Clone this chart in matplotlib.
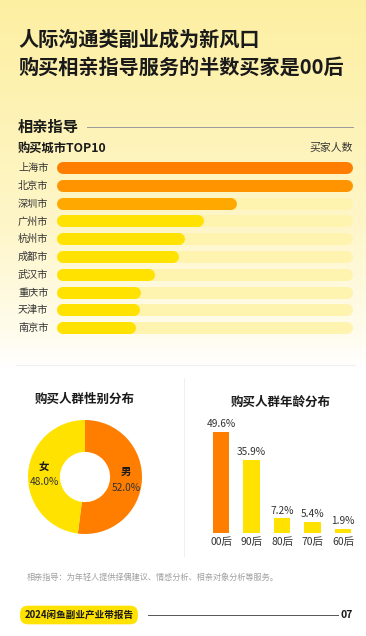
import numpy as np
import matplotlib.pyplot as plt
from matplotlib.colors import LinearSegmentedColormap


plt.rcParams["font.family"] = ["Noto Sans CJK SC", "DejaVu Sans"]

W, H = 366, 636

title_lines = ["人际沟通类副业成为新风口", "购买相亲指导服务的半数买家是00后"]

cities = ["上海市", "北京市", "深圳市", "广州市", "杭州市",
          "成都市", "武汉市", "重庆市", "天津市", "南京市"]
city_values = [100, 99.9, 59, 47.5, 40.8, 38.7, 30.3, 25.4, 25.0, 23.5]
city_colors = ["#FF7E00", "#FF9300", "#FFA900", "#FFE200", "#FFE200",
               "#FFE200", "#FFE200", "#FFE200", "#FFE200", "#FFE200"]

gender_labels = ["男", "女"]
gender_values = [52.0, 48.0]
gender_colors = ["#FF7E00", "#FFE200"]

age_labels = ["00后", "90后", "80后", "70后", "60后"]
age_values = [49.6, 35.9, 7.2, 5.4, 1.9]
age_colors = ["#FF7E00", "#FFE200", "#FFE200", "#FFE200", "#FFE200"]

footnote = "相亲指导：为年轻人提供择偶建议、情感分析、相亲对象分析等服务。"
footer = "2024闲鱼副业产业带报告"
page_no = "07"

DARK = "#1A1A1A"
TEXT = "#333333"
TRACK = "#FFF3B0"


def px_axes(fig, x, y, w, h, **kw):
    """
    Add axes using pixel box (top-left origin)
    """

    return fig.add_axes([x / W, 1 - (y + h) / H, w / W, h / H], **kw)


def draw_background(ax):
    """
    Yellow to white gradient
    """

    cmap = LinearSegmentedColormap.from_list(
        "bg",
        [(0.0, "#FDEFA2"), (0.35, "#FEF6C8"), (0.52, "#FFFCEC"),
         (0.58, "#FFFFFF"), (1.0, "#FFFFFF")]
    )

    grad = np.linspace(0, 1, 300).reshape(-1, 1)

    ax.imshow(grad, cmap=cmap, aspect="auto",
              extent=(0, W, H, 0), zorder=0)

    ax.set_xlim(0, W)

    ax.set_ylim(H, 0)

    ax.axis("off")


def draw_city_bars(ax):
    """
    Rounded horizontal bars for city ranking
    """

    rows = np.arange(len(cities))

    lw = 12 * 0.72

    ax.hlines(rows, 0, 100, colors=TRACK, lw=lw, capstyle="round")

    for r, v, c in zip(rows, city_values, city_colors):

        ax.plot([0, v], [r, r], color=c, lw=lw,
                solid_capstyle="round")

    # city names, left aligned at the page margin
    for r, name in zip(rows, cities):

        ax.text(-39 / 296, r, name, transform=ax.get_yaxis_transform(),
                ha="left", va="center", fontsize=7.3, color=TEXT)

    ax.set_xlim(-6 / 2.84, 100 + 6 / 2.84)

    ax.set_ylim(len(cities) - 0.5, -0.5)

    ax.set_xticks([])

    ax.set_yticks([])

    for s in ax.spines.values():

        s.set_visible(False)

    ax.patch.set_alpha(0)


def draw_donut(ax):
    """
    Gender donut chart
    """

    ax.pie(gender_values, colors=gender_colors, startangle=90,
           counterclock=False, radius=1,
           wedgeprops=dict(width=0.56, edgecolor="none"))

    start = 90

    for lab, v in zip(gender_labels, gender_values):

        mid = np.deg2rad(start - v * 1.8)

        x, y = 0.72 * np.cos(mid), 0.72 * np.sin(mid)

        ax.text(x, y + 0.13, lab, ha="center", va="center",
                fontsize=7.5, fontweight="bold", color=DARK)

        ax.text(x, y - 0.14, f"{v:.1f}%", ha="center", va="center",
                fontsize=7.3, color=TEXT)

        start -= v * 3.6

    ax.set_xlim(-1, 1)

    ax.set_ylim(-1, 1)

    ax.set_aspect("equal")


def draw_age_bars(ax):
    """
    Age distribution column chart
    """

    xs = np.arange(len(age_labels))

    ax.bar(xs, age_values, width=0.53, color=age_colors)

    for x, v in zip(xs, age_values):

        ax.annotate(f"{v}%", (x, v), xytext=(0, 2),
                    textcoords="offset points", ha="center",
                    va="bottom", fontsize=7.3, color=TEXT)

    ax.set_xticks(xs)

    ax.set_xticklabels(age_labels, fontsize=7.5, color=TEXT)

    ax.tick_params(axis="x", length=0, pad=3)

    ax.set_yticks([])

    ax.set_xlim(-0.49, 4.49)

    ax.set_ylim(0, 113 / 2.04)

    for s in ax.spines.values():

        s.set_visible(False)

    ax.patch.set_alpha(0)


fig = plt.figure(figsize=(W / 100, H / 100), dpi=100)

bg = px_axes(fig, 0, 0, W, H)

draw_background(bg)

# headline
for i, line in enumerate(title_lines):

    bg.text(18, 39 + 28.5 * i, line, fontsize=14.5, fontweight="bold",
            color=DARK, va="center", ha="left")

# section header
bg.text(18, 127, "相亲指导", fontsize=11, fontweight="bold",
        color=DARK, va="center")

bg.plot([87, 353], [127, 127], color="#9A9A9A", lw=0.7)

bg.text(18, 148, "购买城市TOP10", fontsize=8.8, fontweight="bold",
        color=DARK, va="center")

bg.text(353, 148, "买家人数", fontsize=7.8, color=TEXT,
        va="center", ha="right")

# separators
bg.plot([16, 355], [365, 365], color="#F0F0F0", lw=0.8)

bg.plot([184, 184], [378, 556], color="#EFEFEF", lw=0.8)

# sub titles
bg.text(85, 399, "购买人群性别分布", fontsize=9, fontweight="bold",
        color=DARK, va="center", ha="center")

bg.text(281, 402, "购买人群年龄分布", fontsize=9, fontweight="bold",
        color=DARK, va="center", ha="center")

# footer
bg.text(27, 577, footnote, fontsize=5.9, color="#A0A0A0", va="center")

bg.text(79, 615, footer, fontsize=6.9, fontweight="bold", color=DARK,
        va="center", ha="center",
        bbox=dict(boxstyle="round,pad=0.45,rounding_size=0.8",
                  fc="#FFE200", ec="none"))

bg.plot([148, 338], [615, 615], color="#555555", lw=0.7)

bg.text(353, 615, page_no, fontsize=7.5, fontweight="bold", color=DARK,
        va="center", ha="right")

ax_city = px_axes(fig, 57, 159.1, 296, 178)

draw_city_bars(ax_city)

ax_donut = px_axes(fig, 28, 420, 114, 114)

draw_donut(ax_donut)

ax_age = px_axes(fig, 206, 420, 152, 113)

draw_age_bars(ax_age)

fig.savefig("out.png", dpi=100)
